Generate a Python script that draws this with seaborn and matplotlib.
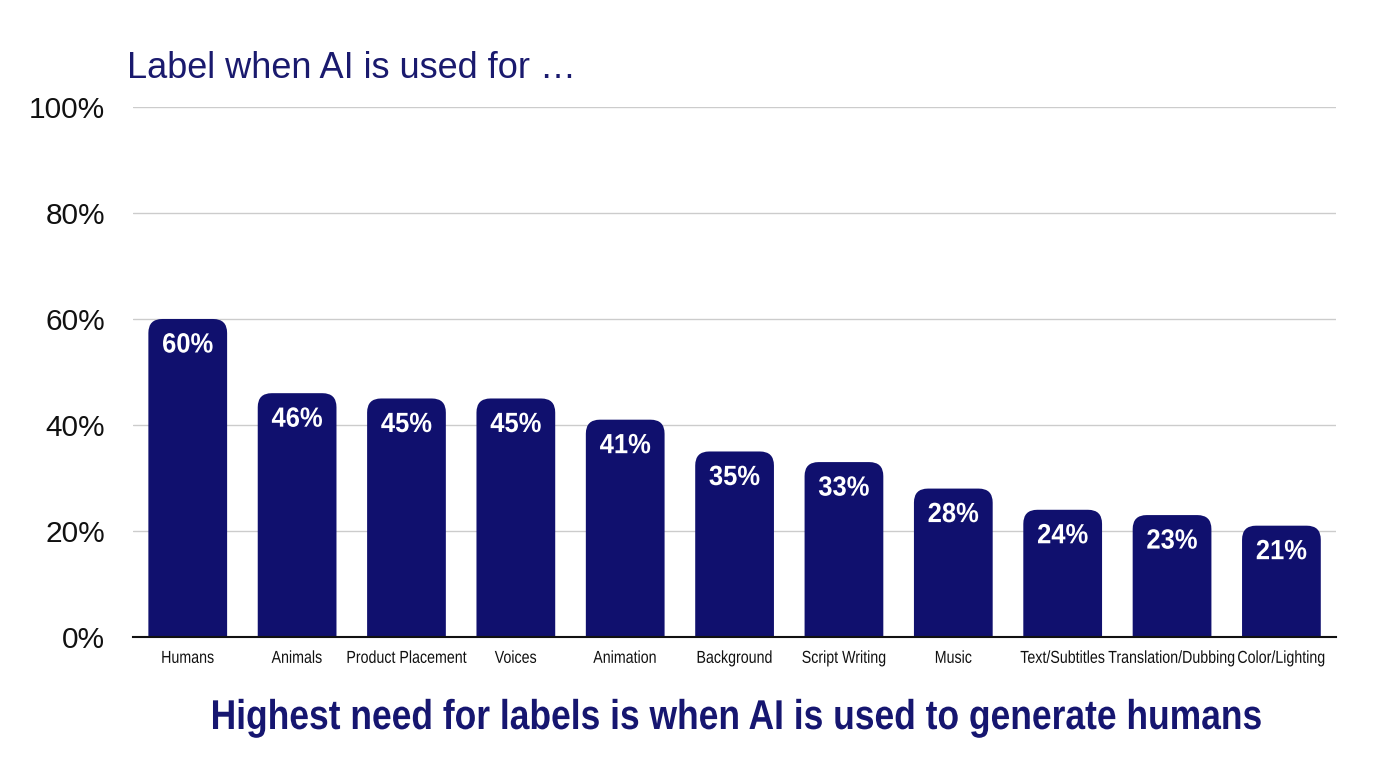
import matplotlib
matplotlib.use("Agg")
import matplotlib.pyplot as plt
import seaborn as sns
import pandas as pd
from matplotlib.patches import FancyBboxPatch
from matplotlib.patheffects import AbstractPathEffect
from matplotlib.transforms import Affine2D

uses = ["Humans", "Animals", "Product Placement", "Voices", "Animation", "Background",
        "Script Writing", "Music", "Text/Subtitles", "Translation/Dubbing", "Color/Lighting"]
share = [60, 46, 45, 45, 41, 35, 33, 28, 24, 23, 21]

navy = "#10106e"


class Condense(AbstractPathEffect):
    # squeeze text horizontally about its own centre (no narrow font installed)
    def __init__(self, sx):
        super().__init__()
        self.sx = sx

    def draw_path(self, renderer, gc, tpath, affine, rgbFace=None):
        ext = tpath.get_extents(affine)
        cx = (ext.x0 + ext.x1) / 2
        t = affine + Affine2D().translate(-cx, 0).scale(self.sx, 1).translate(cx, 0)
        renderer.draw_path(gc, tpath, t, rgbFace)


sns.set_style("white")
plt.rcParams["font.family"] = ["Liberation Sans", "DejaVu Sans"]

df = pd.DataFrame({"use": uses, "share": share})

fig = plt.figure(figsize=(13.76, 7.68), dpi=100)
ax = fig.add_axes([0.0967, 0.1706, 0.8743, 0.6901])
sns.barplot(data=df, x="use", y="share", color=navy, width=0.72, ax=ax, saturation=1)

ax.set_ylim(0, 100)
ax.set_xlim(-0.5, len(uses) - 0.5)
fig.canvas.draw()
px_x = ax.transData.transform((1, 0))[0] - ax.transData.transform((0, 0))[0]
px_y = ax.transData.transform((0, 1))[1] - ax.transData.transform((0, 0))[1]
r = 14 / px_x
aspect = px_x / px_y

for p in list(ax.patches):
    x, w, h = p.get_x(), p.get_width(), p.get_height()
    p.set_visible(False)
    # extend below zero so the bottom corners are clipped away by the axes
    ax.add_patch(FancyBboxPatch((x, -10), w, h + 10, boxstyle=f"round,pad=0,rounding_size={r}",
                                mutation_aspect=aspect, fc=navy, ec="none", zorder=3))
    ax.text(x + w / 2, h - 5.0, f"{h:.0f}%", ha="center", va="center", color="white",
            fontsize=20, fontweight="bold", zorder=4, path_effects=[Condense(0.92)])

ax.set_yticks(range(0, 101, 20))
ax.set_yticklabels([f"{v}%" for v in range(0, 101, 20)], fontsize=21.5, color="#111111")
ax.yaxis.grid(True, color="#cccccc", linewidth=1)
ax.set_axisbelow(True)
for s in ["top", "right", "left"]:
    ax.spines[s].set_visible(False)
ax.spines["bottom"].set_color("#111111")
ax.spines["bottom"].set_linewidth(1.5)
ax.spines["bottom"].set_zorder(5)
ax.tick_params(axis="y", length=0, pad=20)
ax.tick_params(axis="x", length=0, pad=10)
for t in ax.get_xticklabels():
    t.set_fontsize(12.5)
    t.set_color("#111111")
    t.set_path_effects([Condense(0.82)])
ax.set_xlabel("")
ax.set_ylabel("")

fig.text(127 / 1376, 1 - 68 / 768, "Label when AI is used for …", fontsize=26, color="#1a1a6e",
         ha="left", va="center")
fig.text(737 / 1376, 1 - 718 / 768, "Highest need for labels is when AI is used to generate humans",
         fontsize=30, fontweight="bold", color="#161670", ha="center", va="center",
         path_effects=[Condense(0.85)])

fig.savefig("out.png", dpi=100, facecolor="white")
